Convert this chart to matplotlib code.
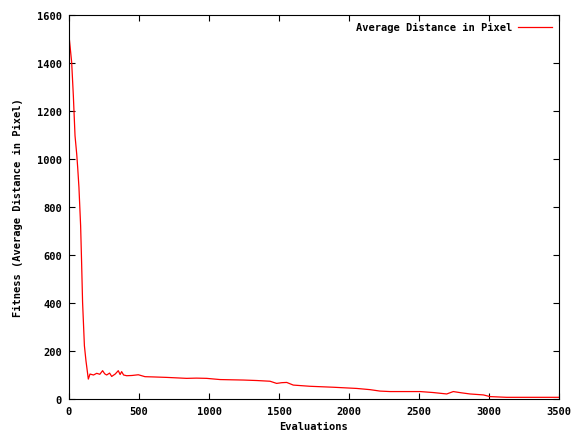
import matplotlib
matplotlib.use("Agg")
import matplotlib.pyplot as plt

evaluations = [0, 19, 31, 43, 55, 62, 71, 83, 90, 97, 110, 121, 138, 150, 175, 198, 220, 240, 255, 269, 290, 305,
               330, 352, 365, 376, 390, 412, 450, 495, 543, 600, 698, 770, 840, 910, 983, 1079, 1160, 1245,
               1340, 1436, 1483, 1520, 1555, 1602, 1721, 1888, 2055, 2150, 2221, 2293, 2400, 2507, 2600, 2698,
               2745, 2800, 2864, 2960, 3007, 3126, 3300, 3500]
distance = [1514, 1403, 1264, 1097, 1021, 965, 882, 722, 569, 403, 222, 160, 83, 104, 100, 107, 103, 118, 105, 100, 108, 94,
            104, 118, 102, 114, 100, 97, 98, 101, 93, 92, 90, 88, 86, 87, 86, 81, 80, 79,
            77, 74, 65, 68, 69, 58, 53, 49, 44, 39, 33, 31, 31, 31, 27, 21,
            31, 26, 21, 17, 10, 7, 7, 7]

xticks = [0, 500, 1000, 1500, 2000, 2500, 3000, 3500]
yticks = [0, 200, 400, 600, 800, 1000, 1200, 1400, 1600]

font = dict(family="DejaVu Sans Mono", weight="bold", size=7.5)

fig = plt.figure(figsize=(5.79, 4.35), dpi=100)
ax = fig.add_axes([69/579, 35/435, 490/579, 384/435])
ax.plot(evaluations, distance, color="#ff0000", linewidth=0.9, label="Average Distance in Pixel")
ax.set_xlim(0, 3500)
ax.set_ylim(0, 1600)
ax.set_xticks(xticks)
ax.set_yticks(yticks)
ax.set_xticklabels([str(t) for t in xticks], fontdict=font)
ax.set_yticklabels([str(t) for t in yticks], fontdict=font)
ax.tick_params(direction="in", length=4, width=0.8, top=True, right=True, pad=5)
for s in ax.spines.values():
    s.set_linewidth(0.8)
ax.set_xlabel("Evaluations", fontdict=font, labelpad=4)
ax.set_ylabel("Fitness (Average Distance in Pixel)", fontdict=font, labelpad=10)
leg = ax.legend(loc="upper right", frameon=False, prop=dict(family="DejaVu Sans Mono", weight="bold", size=7.5),
                markerfirst=False, handlelength=3.2, handletextpad=0.6, borderaxespad=0.3)
fig.savefig("out.png", dpi=100)
